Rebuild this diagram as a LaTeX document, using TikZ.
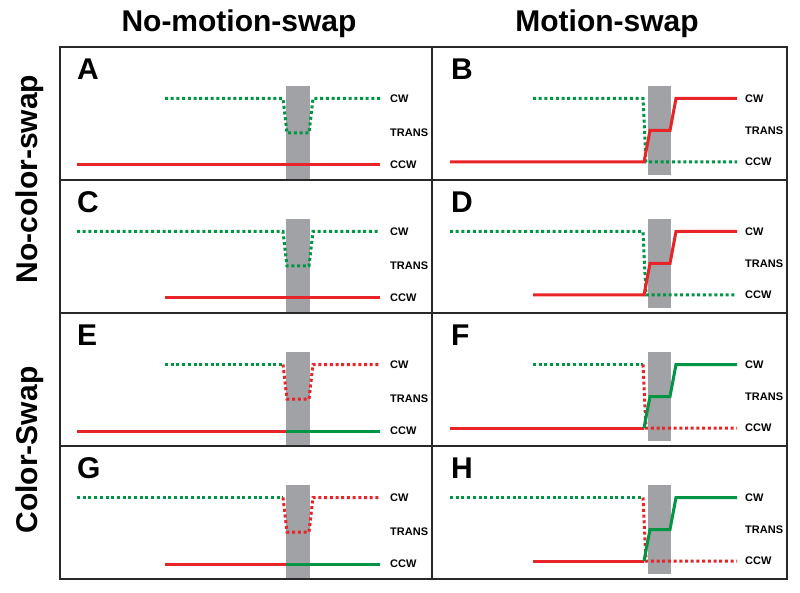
\documentclass[tikz,border=0pt]{standalone}
\usepackage{fontspec}
\setmainfont{Liberation Sans}
\definecolor{rd}{RGB}{232,36,40}
\definecolor{gn}{RGB}{0,150,68}
\definecolor{bar}{RGB}{160,162,166}
\definecolor{frm}{RGB}{40,40,40}
\begin{document}
\begin{tikzpicture}[x=1pt,y=-1pt,
  big/.style={font=\fontsize{30}{34}\selectfont\bfseries, inner sep=0pt},
  letter/.style={font=\fontsize{30}{34}\selectfont\bfseries, inner sep=0pt, anchor=base west},
  lab/.style={font=\fontsize{11}{13}\selectfont\bfseries, inner sep=0pt, anchor=west},
  sol/.style={line width=3pt, line join=miter},
  dot/.style={line width=3pt, dash pattern=on 3pt off 2.7pt},
  graybar/.style={fill=bar, draw=none},
  frame/.style={draw=frm, line width=1.5pt}]
\useasboundingbox (0,0) rectangle (800,593);
\fill[white] (0,0) rectangle (800,593);

% headers
\node[big, anchor=base] (h1) at (239,32) {No-motion-swap};
\node[big, anchor=base] (h2) at (607,32) {Motion-swap};
\node[big, anchor=base, rotate=90] (r1) at (37,179) {No-color-swap};
\node[big, anchor=base, rotate=90] (r2) at (37,450) {Color-Swap};

% gray bars
\foreach \t in {47,180,313,446}{
  \path[graybar] (286,\t+39) rectangle (310,\t+133);
  \path[graybar] (648,\t+39) rectangle (671,\t+128);
}

% ---------- Row 1 ----------
% A
\draw[dot, gn] (165,98.5) -- (283,98.5) -- (287,133) -- (309,133) -- (313,98.5) -- (380,98.5);
\draw[sol, rd] (77,165) -- (380,165);
% B
\draw[dot, gn] (533,98.5) -- (643,98.5) -- (646,162) -- (737,162);
\draw[sol, rd] (450,162) -- (644,162) -- (650,130.5) -- (670,130.5) -- (676,98.5) -- (737,98.5);

% ---------- Row 2 ----------
% C
\draw[dot, gn] (77,231.5) -- (283,231.5) -- (287,266) -- (309,266) -- (313,231.5) -- (380,231.5);
\draw[sol, rd] (165,298) -- (380,298);
% D
\draw[dot, gn] (450,231.5) -- (643,231.5) -- (646,295) -- (737,295);
\draw[sol, rd] (533,295) -- (644,295) -- (650,263.5) -- (670,263.5) -- (676,231.5) -- (737,231.5);

% ---------- Row 3 ----------
% E
\draw[dot, gn] (165,364.5) -- (283,364.5);
\draw[dot, rd] (283,364.5) -- (287,399) -- (309,399) -- (313,364.5) -- (380,364.5);
\draw[sol, rd] (77,431) -- (286,431);
\draw[sol, gn] (286,431) -- (380,431);
% F
\draw[dot, gn] (533,364.5) -- (643,364.5);
\draw[dot, rd] (643,364.5) -- (646,428) -- (737,428);
\draw[sol, rd] (450,428) -- (644,428);
\draw[sol, gn] (644,428) -- (650,396.5) -- (670,396.5) -- (676,364.5) -- (737,364.5);

% ---------- Row 4 ----------
% G
\draw[dot, gn] (77,497.5) -- (283,497.5);
\draw[dot, rd] (283,497.5) -- (287,532) -- (309,532) -- (313,497.5) -- (380,497.5);
\draw[sol, rd] (165,564) -- (286,564);
\draw[sol, gn] (286,564) -- (380,564);
% H
\draw[dot, gn] (450,497.5) -- (643,497.5);
\draw[dot, rd] (643,497.5) -- (646,561) -- (737,561);
\draw[sol, rd] (533,561) -- (644,561);
\draw[sol, gn] (644,561) -- (650,529.5) -- (670,529.5) -- (676,497.5) -- (737,497.5);

% frame
\draw[frame] (60,47) rectangle (787,579);
\draw[frame] (432,47) -- (432,579);
\foreach \y in {180,313,446}{ \draw[frame] (60,\y) -- (787,\y); }

% panel letters
\node[letter] (pA) at (77,79.5) {A};
\node[letter] (pB) at (451,79.5) {B};
\node[letter] (pC) at (77,212.5) {C};
\node[letter] (pD) at (451,212.5) {D};
\node[letter] (pE) at (77,345.5) {E};
\node[letter] (pF) at (451,345.5) {F};
\node[letter] (pG) at (77,478.5) {G};
\node[letter] (pH) at (451,478.5) {H};

% state labels
\foreach \t/\n in {47/1,180/2,313/3,446/4}{
  \node[lab] (lcw\n) at (390,\t+51.5) {CW};
  \node[lab] (ltr\n) at (390,\t+86) {TRANS};
  \node[lab] (lccw\n) at (390,\t+118) {CCW};
  \node[lab] (rcw\n) at (745,\t+51.5) {CW};
  \node[lab] (rtr\n) at (745,\t+83.5) {TRANS};
  \node[lab] (rccw\n) at (745,\t+115) {CCW};
}
\end{tikzpicture}
\end{document}
